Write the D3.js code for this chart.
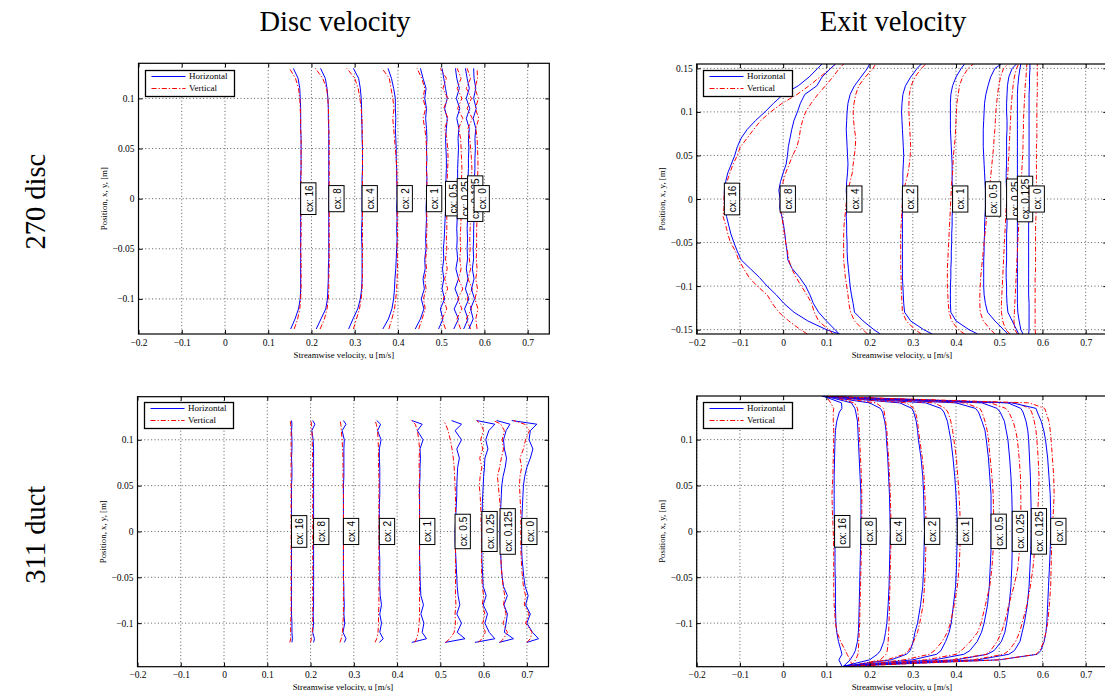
<!DOCTYPE html>
<html>
<head>
<meta charset="utf-8">
<script src="https://cdn.jsdelivr.net/npm/d3@7"></script>
<style>
  html, body { margin: 0; padding: 0; background: #fff; }
  svg { display: block; }
</style>
</head>
<body>
<svg id="fig" width="1105" height="691"></svg>
<script>
// ---------------------------------------------------------------
// Streamwise velocity profiles (horizontal and vertical traverses)
// for nine cx values, disc plane vs. exit plane, two set-ups.
// ---------------------------------------------------------------
const cxValues = [16, 8, 4, 2, 1, 0.5, 0.25, 0.125, 0];
const cxLabels = ["cx: 16", "cx: 8", "cx: 4", "cx: 2", "cx: 1", "cx: 0.5", "cx: 0.25", "cx: 0.125", "cx: 0"];
const xTicks = [-0.2, -0.1, 0, 0.1, 0.2, 0.3, 0.4, 0.5, 0.6, 0.7];
const yTicksA = [-0.1, -0.05, 0, 0.05, 0.1];
const yTicksB = [-0.15, -0.1, -0.05, 0, 0.05, 0.1, 0.15];
const columnTitles = ["Disc velocity", "Exit velocity"];
const rowTitles = ["270 disc", "311 duct"];
const seriesNames = ["Horizontal", "Vertical"];

// ---- 270 disc, disc plane ----
const discPos270 = [-0.13,-0.12,-0.11,-0.10,-0.09,-0.08,-0.07,-0.06,-0.05,-0.04,-0.03,-0.02,-0.01,0,
  0.01,0.02,0.03,0.04,0.05,0.06,0.07,0.08,0.09,0.10,0.11,0.12,0.13];
const discH270 = [
  [0.152,0.162,0.170,0.174,0.175,0.175,0.175,0.175,0.175,0.175,0.175,0.175,0.175,0.175,0.175,0.175,0.176,0.176,0.176,0.176,0.175,0.175,0.175,0.174,0.173,0.169,0.158],
  [0.211,0.222,0.233,0.237,0.238,0.239,0.239,0.240,0.240,0.240,0.240,0.240,0.240,0.240,0.240,0.240,0.240,0.240,0.240,0.240,0.240,0.239,0.239,0.238,0.236,0.232,0.221],
  [0.286,0.296,0.307,0.313,0.316,0.317,0.317,0.317,0.317,0.316,0.316,0.317,0.317,0.317,0.317,0.317,0.318,0.318,0.318,0.317,0.317,0.316,0.316,0.315,0.313,0.309,0.297],
  [0.365,0.378,0.386,0.390,0.392,0.393,0.395,0.396,0.397,0.398,0.397,0.398,0.397,0.398,0.398,0.397,0.397,0.396,0.396,0.395,0.394,0.395,0.394,0.394,0.390,0.385,0.377],
  [0.440,0.452,0.460,0.454,0.461,0.458,0.463,0.462,0.465,0.464,0.465,0.466,0.465,0.466,0.466,0.467,0.466,0.467,0.466,0.467,0.466,0.464,0.466,0.462,0.465,0.458,0.452],
  [0.494,0.504,0.498,0.508,0.502,0.506,0.503,0.506,0.505,0.507,0.508,0.509,0.510,0.510,0.511,0.511,0.512,0.512,0.511,0.510,0.512,0.514,0.508,0.514,0.510,0.506,0.502],
  [0.529,0.540,0.530,0.541,0.532,0.540,0.534,0.538,0.536,0.537,0.536,0.537,0.537,0.537,0.537,0.538,0.538,0.539,0.540,0.539,0.541,0.536,0.543,0.535,0.542,0.536,0.533],
  [0.552,0.562,0.554,0.564,0.556,0.562,0.558,0.561,0.560,0.561,0.560,0.561,0.560,0.561,0.561,0.562,0.563,0.563,0.564,0.563,0.565,0.558,0.566,0.558,0.565,0.560,0.556],
  [0.564,0.574,0.568,0.577,0.570,0.576,0.572,0.575,0.574,0.575,0.575,0.576,0.576,0.576,0.577,0.577,0.578,0.578,0.579,0.578,0.580,0.574,0.581,0.575,0.580,0.576,0.575]
];
const discV270 = [
  [0.160,0.168,0.173,0.175,0.176,0.176,0.176,0.176,0.175,0.176,0.176,0.176,0.176,0.176,0.176,0.176,0.176,0.176,0.176,0.176,0.175,0.175,0.174,0.173,0.170,0.163,0.149],
  [0.220,0.230,0.236,0.239,0.240,0.240,0.241,0.241,0.241,0.241,0.241,0.241,0.241,0.241,0.241,0.241,0.241,0.241,0.241,0.241,0.240,0.240,0.239,0.238,0.235,0.226,0.209],
  [0.297,0.304,0.311,0.315,0.317,0.318,0.318,0.318,0.318,0.318,0.318,0.318,0.318,0.318,0.318,0.318,0.318,0.318,0.318,0.318,0.317,0.317,0.315,0.312,0.308,0.300,0.282],
  [0.379,0.386,0.392,0.395,0.397,0.398,0.399,0.399,0.398,0.399,0.399,0.398,0.399,0.399,0.398,0.398,0.397,0.396,0.394,0.392,0.390,0.388,0.391,0.388,0.384,0.380,0.363],
  [0.448,0.456,0.463,0.459,0.465,0.462,0.466,0.464,0.467,0.466,0.467,0.467,0.466,0.467,0.467,0.467,0.466,0.466,0.466,0.465,0.462,0.458,0.464,0.458,0.462,0.455,0.444],
  [0.510,0.502,0.513,0.505,0.515,0.508,0.514,0.510,0.513,0.512,0.513,0.513,0.512,0.512,0.513,0.514,0.515,0.516,0.515,0.513,0.508,0.516,0.506,0.515,0.504,0.512,0.498],
  [0.545,0.536,0.548,0.538,0.550,0.540,0.546,0.543,0.545,0.544,0.545,0.546,0.545,0.546,0.546,0.547,0.548,0.547,0.546,0.545,0.540,0.550,0.538,0.548,0.537,0.546,0.537],
  [0.568,0.558,0.570,0.560,0.572,0.562,0.568,0.565,0.567,0.566,0.567,0.568,0.568,0.568,0.569,0.570,0.571,0.570,0.568,0.566,0.562,0.572,0.560,0.570,0.558,0.568,0.560],
  [0.583,0.580,0.585,0.578,0.584,0.580,0.583,0.581,0.582,0.582,0.582,0.583,0.583,0.583,0.584,0.584,0.585,0.585,0.584,0.583,0.580,0.587,0.579,0.586,0.578,0.584,0.583]
];

// ---- 270 disc, exit plane ----
const exitPos270 = [-0.155,-0.15,-0.14,-0.13,-0.12,-0.11,-0.10,-0.09,-0.08,-0.07,-0.06,-0.05,-0.04,-0.03,-0.02,-0.01,0,
  0.01,0.02,0.03,0.04,0.05,0.06,0.07,0.08,0.09,0.10,0.11,0.12,0.13,0.14,0.15,0.155];
const exitH270 = [
  [0.130,0.100,0.057,0.025,0.002,-0.016,-0.037,-0.055,-0.076,-0.097,-0.106,-0.114,-0.121,-0.126,-0.131,-0.134,-0.136,-0.136,-0.133,-0.128,-0.120,-0.112,-0.106,-0.097,-0.083,-0.064,-0.042,-0.022,0.000,0.035,0.060,0.080,0.090],
  [0.130,0.120,0.100,0.082,0.070,0.062,0.052,0.038,0.021,0.011,0.009,0.006,0.004,0.001,-0.003,-0.008,-0.007,-0.010,-0.006,0.000,0.007,0.010,0.012,0.016,0.020,0.025,0.033,0.040,0.050,0.078,0.090,0.110,0.121],
  [0.225,0.210,0.185,0.165,0.162,0.158,0.155,0.153,0.151,0.149,0.148,0.148,0.147,0.147,0.146,0.147,0.147,0.146,0.147,0.149,0.150,0.149,0.148,0.147,0.146,0.147,0.148,0.150,0.155,0.165,0.180,0.195,0.200],
  [0.345,0.325,0.295,0.281,0.279,0.278,0.277,0.276,0.276,0.276,0.276,0.276,0.276,0.276,0.276,0.276,0.276,0.276,0.277,0.277,0.278,0.279,0.278,0.277,0.276,0.275,0.274,0.275,0.277,0.283,0.295,0.310,0.320],
  [0.450,0.430,0.400,0.388,0.387,0.387,0.387,0.388,0.388,0.389,0.389,0.390,0.390,0.391,0.391,0.392,0.392,0.392,0.391,0.391,0.391,0.390,0.389,0.388,0.387,0.387,0.387,0.387,0.388,0.392,0.400,0.412,0.420],
  [0.520,0.510,0.490,0.473,0.468,0.465,0.464,0.464,0.464,0.464,0.465,0.465,0.466,0.466,0.467,0.468,0.468,0.468,0.467,0.466,0.465,0.464,0.463,0.463,0.463,0.464,0.465,0.466,0.469,0.474,0.480,0.490,0.505],
  [0.545,0.540,0.530,0.520,0.518,0.517,0.517,0.516,0.516,0.517,0.517,0.517,0.517,0.518,0.518,0.517,0.517,0.517,0.516,0.516,0.517,0.517,0.517,0.517,0.518,0.518,0.517,0.517,0.518,0.519,0.522,0.530,0.540],
  [0.555,0.550,0.546,0.543,0.542,0.542,0.542,0.542,0.542,0.542,0.542,0.542,0.542,0.542,0.542,0.542,0.542,0.542,0.542,0.542,0.542,0.542,0.542,0.542,0.542,0.542,0.542,0.542,0.542,0.543,0.545,0.548,0.550],
  [0.568,0.569,0.569,0.569,0.569,0.568,0.568,0.568,0.568,0.568,0.568,0.568,0.568,0.568,0.569,0.569,0.569,0.569,0.569,0.569,0.569,0.569,0.569,0.569,0.569,0.569,0.569,0.569,0.569,0.570,0.570,0.571,0.571]
];
const exitV270 = [
  [0.056,0.040,0.013,-0.010,-0.025,-0.037,-0.060,-0.079,-0.091,-0.103,-0.110,-0.122,-0.128,-0.133,-0.139,-0.137,-0.137,-0.136,-0.130,-0.123,-0.116,-0.106,-0.099,-0.083,-0.068,-0.052,-0.029,-0.002,0.032,0.060,0.085,0.110,0.122],
  [0.115,0.105,0.082,0.072,0.066,0.055,0.042,0.030,0.020,0.013,0.010,0.006,0.003,0.000,-0.003,-0.007,-0.006,-0.004,0.000,0.006,0.014,0.022,0.032,0.037,0.040,0.045,0.052,0.065,0.080,0.098,0.115,0.130,0.140],
  [0.195,0.185,0.165,0.156,0.152,0.150,0.147,0.144,0.142,0.140,0.140,0.140,0.140,0.141,0.143,0.145,0.147,0.150,0.155,0.160,0.162,0.165,0.167,0.168,0.165,0.163,0.162,0.164,0.168,0.175,0.190,0.208,0.214],
  [0.320,0.305,0.285,0.276,0.275,0.274,0.273,0.273,0.272,0.272,0.272,0.272,0.272,0.273,0.274,0.275,0.277,0.279,0.284,0.289,0.292,0.294,0.295,0.294,0.293,0.292,0.291,0.291,0.292,0.296,0.305,0.320,0.330],
  [0.420,0.405,0.390,0.384,0.382,0.381,0.380,0.380,0.380,0.381,0.382,0.383,0.384,0.385,0.386,0.387,0.388,0.389,0.390,0.392,0.393,0.394,0.396,0.398,0.399,0.400,0.401,0.402,0.405,0.408,0.415,0.428,0.440],
  [0.490,0.480,0.463,0.456,0.455,0.455,0.456,0.457,0.459,0.461,0.463,0.465,0.467,0.469,0.471,0.473,0.475,0.477,0.479,0.481,0.483,0.485,0.487,0.488,0.490,0.491,0.492,0.494,0.496,0.499,0.503,0.510,0.520],
  [0.525,0.515,0.508,0.505,0.505,0.506,0.507,0.508,0.509,0.510,0.511,0.512,0.513,0.514,0.515,0.516,0.517,0.518,0.519,0.520,0.521,0.522,0.523,0.524,0.525,0.526,0.527,0.528,0.530,0.532,0.535,0.540,0.545],
  [0.542,0.536,0.534,0.535,0.536,0.537,0.538,0.539,0.540,0.541,0.542,0.543,0.544,0.545,0.546,0.547,0.549,0.550,0.551,0.552,0.553,0.554,0.555,0.555,0.556,0.556,0.557,0.558,0.559,0.560,0.562,0.563,0.564],
  [0.584,0.583,0.583,0.583,0.583,0.583,0.583,0.583,0.584,0.584,0.584,0.584,0.584,0.584,0.585,0.585,0.585,0.585,0.586,0.586,0.586,0.586,0.586,0.587,0.587,0.587,0.587,0.587,0.588,0.588,0.588,0.588,0.588]
];

// ---- 311 duct, disc plane ----
const discPos311 = [-0.121,-0.117,-0.11,-0.10,-0.09,-0.08,-0.07,-0.06,-0.05,-0.04,-0.03,-0.02,-0.01,0,
  0.01,0.02,0.03,0.04,0.05,0.06,0.07,0.08,0.09,0.10,0.11,0.117,0.121];
const discH311 = [
  [0.157,0.158,0.157,0.157,0.156,0.156,0.156,0.156,0.156,0.156,0.156,0.156,0.156,0.156,0.156,0.156,0.156,0.156,0.156,0.157,0.157,0.156,0.157,0.157,0.156,0.157,0.156],
  [0.207,0.209,0.205,0.207,0.206,0.207,0.207,0.207,0.207,0.207,0.207,0.207,0.207,0.207,0.207,0.207,0.207,0.207,0.207,0.207,0.207,0.207,0.207,0.206,0.203,0.210,0.205],
  [0.278,0.282,0.275,0.279,0.277,0.278,0.277,0.277,0.276,0.276,0.276,0.276,0.276,0.276,0.276,0.276,0.276,0.276,0.276,0.277,0.277,0.277,0.277,0.278,0.273,0.282,0.276],
  [0.359,0.368,0.360,0.364,0.360,0.364,0.361,0.360,0.360,0.360,0.360,0.359,0.359,0.359,0.359,0.359,0.359,0.360,0.360,0.360,0.360,0.359,0.359,0.363,0.355,0.362,0.353],
  [0.434,0.468,0.458,0.462,0.455,0.461,0.455,0.454,0.453,0.453,0.452,0.452,0.452,0.452,0.452,0.452,0.452,0.452,0.452,0.453,0.453,0.454,0.453,0.460,0.447,0.458,0.434],
  [0.511,0.557,0.539,0.549,0.538,0.545,0.541,0.539,0.538,0.537,0.536,0.535,0.534,0.534,0.535,0.536,0.537,0.538,0.538,0.539,0.540,0.544,0.538,0.549,0.534,0.549,0.526],
  [0.580,0.626,0.613,0.603,0.609,0.599,0.606,0.599,0.598,0.597,0.596,0.596,0.596,0.596,0.596,0.597,0.597,0.598,0.599,0.600,0.602,0.603,0.610,0.605,0.612,0.626,0.584],
  [0.636,0.669,0.648,0.652,0.655,0.647,0.655,0.646,0.643,0.641,0.640,0.639,0.638,0.638,0.638,0.639,0.640,0.641,0.642,0.645,0.650,0.653,0.648,0.646,0.652,0.661,0.630],
  [0.700,0.727,0.713,0.700,0.708,0.697,0.703,0.696,0.693,0.691,0.689,0.688,0.688,0.688,0.688,0.689,0.690,0.691,0.692,0.695,0.700,0.708,0.714,0.705,0.708,0.723,0.665]
];
const discV311 = [
  [0.152,0.154,0.154,0.154,0.155,0.155,0.155,0.155,0.155,0.155,0.155,0.155,0.155,0.155,0.155,0.155,0.155,0.155,0.155,0.155,0.155,0.155,0.155,0.155,0.155,0.154,0.153],
  [0.200,0.202,0.204,0.205,0.205,0.205,0.205,0.205,0.205,0.205,0.205,0.205,0.205,0.205,0.205,0.205,0.205,0.205,0.205,0.205,0.205,0.205,0.204,0.204,0.203,0.202,0.201],
  [0.268,0.271,0.274,0.275,0.276,0.276,0.276,0.276,0.276,0.276,0.276,0.276,0.276,0.276,0.276,0.276,0.276,0.276,0.275,0.275,0.275,0.275,0.274,0.273,0.271,0.270,0.268],
  [0.349,0.353,0.356,0.357,0.357,0.358,0.358,0.358,0.358,0.358,0.358,0.358,0.358,0.358,0.358,0.358,0.358,0.358,0.358,0.358,0.357,0.357,0.357,0.356,0.355,0.352,0.349],
  [0.441,0.445,0.449,0.451,0.452,0.452,0.452,0.452,0.452,0.452,0.452,0.452,0.452,0.452,0.452,0.452,0.452,0.451,0.451,0.452,0.451,0.451,0.452,0.450,0.447,0.442,0.434],
  [0.512,0.522,0.532,0.535,0.534,0.536,0.535,0.535,0.535,0.535,0.535,0.535,0.535,0.535,0.535,0.535,0.535,0.535,0.534,0.533,0.532,0.530,0.527,0.523,0.518,0.512,0.507],
  [0.588,0.596,0.604,0.598,0.603,0.597,0.600,0.597,0.596,0.595,0.595,0.595,0.595,0.595,0.594,0.594,0.593,0.592,0.590,0.592,0.596,0.591,0.598,0.593,0.600,0.594,0.584],
  [0.638,0.646,0.655,0.645,0.652,0.646,0.649,0.645,0.643,0.641,0.640,0.640,0.640,0.640,0.640,0.639,0.638,0.636,0.634,0.632,0.637,0.641,0.646,0.643,0.648,0.640,0.623],
  [0.700,0.708,0.712,0.697,0.705,0.694,0.697,0.692,0.690,0.688,0.687,0.686,0.686,0.686,0.686,0.686,0.685,0.684,0.683,0.684,0.688,0.684,0.692,0.697,0.706,0.695,0.669]
];

// ---- 311 duct, exit plane ----
const exitPos311 = [-0.147,-0.14,-0.134,-0.13,-0.12,-0.11,-0.10,-0.08,-0.06,-0.04,-0.02,0,
  0.02,0.04,0.06,0.08,0.10,0.11,0.12,0.13,0.134,0.14,0.147];
const exitH311 = [
  [0.136,0.129,0.136,0.134,0.128,0.124,0.122,0.121,0.121,0.120,0.120,0.119,0.118,0.118,0.118,0.119,0.120,0.121,0.124,0.130,0.136,0.135,0.095],
  [0.140,0.155,0.163,0.167,0.172,0.174,0.175,0.176,0.177,0.178,0.179,0.180,0.180,0.180,0.178,0.176,0.174,0.173,0.172,0.168,0.166,0.158,0.100],
  [0.140,0.200,0.218,0.225,0.233,0.237,0.240,0.243,0.245,0.246,0.247,0.248,0.247,0.246,0.244,0.242,0.239,0.238,0.235,0.230,0.225,0.200,0.100],
  [0.140,0.250,0.285,0.294,0.301,0.305,0.311,0.318,0.323,0.325,0.326,0.327,0.326,0.325,0.323,0.319,0.313,0.311,0.308,0.302,0.298,0.270,0.095],
  [0.140,0.300,0.355,0.365,0.376,0.384,0.389,0.394,0.399,0.401,0.402,0.403,0.402,0.400,0.397,0.393,0.388,0.384,0.380,0.372,0.365,0.330,0.095],
  [0.140,0.350,0.418,0.432,0.449,0.459,0.465,0.473,0.477,0.479,0.481,0.481,0.481,0.481,0.478,0.475,0.470,0.467,0.460,0.452,0.445,0.400,0.090],
  [0.140,0.400,0.472,0.488,0.505,0.513,0.517,0.523,0.527,0.529,0.530,0.530,0.530,0.529,0.527,0.524,0.520,0.516,0.512,0.502,0.495,0.460,0.090],
  [0.140,0.450,0.522,0.535,0.548,0.553,0.558,0.565,0.569,0.571,0.573,0.574,0.574,0.573,0.572,0.570,0.568,0.566,0.562,0.555,0.550,0.520,0.090],
  [0.140,0.500,0.588,0.596,0.604,0.608,0.610,0.612,0.614,0.616,0.618,0.619,0.619,0.618,0.615,0.612,0.607,0.603,0.597,0.588,0.585,0.530,0.090]
];
const exitV311 = [
  [0.160,0.155,0.148,0.144,0.133,0.125,0.121,0.118,0.117,0.117,0.117,0.116,0.114,0.113,0.115,0.116,0.117,0.117,0.116,0.116,0.117,0.110,0.100],
  [0.155,0.168,0.173,0.174,0.175,0.176,0.177,0.178,0.179,0.180,0.181,0.182,0.182,0.182,0.181,0.179,0.177,0.176,0.175,0.173,0.172,0.165,0.110],
  [0.155,0.225,0.238,0.241,0.243,0.244,0.245,0.246,0.247,0.248,0.249,0.250,0.249,0.248,0.246,0.244,0.241,0.240,0.237,0.234,0.232,0.215,0.105],
  [0.150,0.240,0.280,0.290,0.302,0.311,0.316,0.324,0.327,0.329,0.330,0.331,0.330,0.328,0.326,0.322,0.316,0.313,0.311,0.306,0.303,0.285,0.100],
  [0.155,0.280,0.338,0.350,0.368,0.380,0.387,0.396,0.403,0.407,0.409,0.410,0.409,0.407,0.404,0.401,0.395,0.392,0.388,0.381,0.375,0.350,0.100],
  [0.155,0.330,0.400,0.412,0.433,0.450,0.458,0.468,0.478,0.483,0.486,0.487,0.487,0.486,0.483,0.479,0.475,0.472,0.467,0.460,0.455,0.420,0.100],
  [0.155,0.390,0.470,0.480,0.495,0.505,0.512,0.522,0.534,0.543,0.547,0.549,0.550,0.550,0.549,0.546,0.542,0.538,0.532,0.522,0.515,0.480,0.100],
  [0.155,0.440,0.510,0.522,0.538,0.547,0.553,0.564,0.572,0.578,0.582,0.585,0.589,0.591,0.592,0.590,0.587,0.585,0.581,0.575,0.570,0.540,0.100],
  [0.155,0.500,0.585,0.594,0.603,0.608,0.612,0.616,0.619,0.620,0.621,0.622,0.625,0.627,0.626,0.623,0.620,0.618,0.615,0.608,0.605,0.570,0.100]
];

// ---------------------------------------------------------------
// Layout and styling
// ---------------------------------------------------------------
const SERIF = "'Liberation Serif', 'Times New Roman', Times, serif";
const SANS = "'Liberation Sans', Arial, Helvetica, sans-serif";
const BLUE = "#0000ff";
const RED = "#ff0000";
const DASHDOT = "5,2,1.3,2";

const panels = [
  { pos: discPos270, H: discH270, V: discV270, yTicks: yTicksA, yDomain: [-0.135, 0.135],
    x0: 138.5, x1: 549.3, y0: 63.3, y1: 334 },
  { pos: exitPos270, H: exitH270, V: exitV270, yTicks: yTicksB, yDomain: [-0.155, 0.155],
    x0: 696.7, x1: 1107.3, y0: 64, y1: 334 },
  { pos: discPos311, H: discH311, V: discV311, yTicks: yTicksA, yDomain: [-0.1475, 0.147],
    x0: 137.5, x1: 548.5, y0: 396.7, y1: 666.7 },
  { pos: exitPos311, H: exitH311, V: exitV311, yTicks: yTicksA, yDomain: [-0.1475, 0.1475],
    x0: 696.7, x1: 1107.3, y0: 396, y1: 666.7 }
];

const svg = d3.select("#fig");
svg.append("rect").attr("width", 1105).attr("height", 691).attr("fill", "#fff");
const defs = svg.append("defs");

const fmt = d => (d < 0 ? "\u2212" : "") + String(+Math.abs(d).toFixed(2));

function drawPanel(p, k) {
  const x = d3.scaleLinear().domain([-0.2, 0.75]).range([p.x0, p.x1]);
  const y = d3.scaleLinear().domain(p.yDomain).range([p.y1, p.y0]);
  const g = svg.append("g");
  const w = p.x1 - p.x0, h = p.y1 - p.y0;

  defs.append("clipPath").attr("id", "plotclip" + k)
    .append("rect").attr("x", p.x0).attr("y", p.y0).attr("width", w).attr("height", h);

  // dotted grid
  const grid = g.append("g").attr("stroke", "#333").attr("stroke-width", 0.8)
    .attr("stroke-dasharray", "1,2.4").attr("fill", "none");
  grid.selectAll(".gx").data(xTicks).join("line")
    .attr("x1", d => x(d)).attr("x2", d => x(d)).attr("y1", p.y0).attr("y2", p.y1);
  grid.selectAll(".gy").data(p.yTicks).join("line")
    .attr("y1", d => y(d)).attr("y2", d => y(d)).attr("x1", p.x0).attr("x2", p.x1);

  // profiles
  const line = d3.line().x(d => x(d[0])).y(d => y(d[1]));
  const curves = g.append("g").attr("clip-path", `url(#plotclip${k})`).attr("fill", "none");
  cxValues.forEach((cx, i) => {
    const hPts = p.H[i].map((u, j) => [u, p.pos[j]]);
    const vPts = p.V[i].map((u, j) => [u, p.pos[j]]);
    curves.append("path").attr("d", line(hPts)).attr("stroke", BLUE).attr("stroke-width", 1);
    curves.append("path").attr("d", line(vPts)).attr("stroke", RED).attr("stroke-width", 1)
      .attr("stroke-dasharray", DASHDOT);
  });

  // axes: inward ticks on all four sides, labels on bottom and left
  const tick = 4;
  const ax = g.append("g").attr("transform", `translate(0,${p.y1})`)
    .call(d3.axisBottom(x).tickValues(xTicks).tickSizeInner(-tick).tickSizeOuter(0).tickPadding(5).tickFormat(fmt));
  const ay = g.append("g").attr("transform", `translate(${p.x0},0)`)
    .call(d3.axisLeft(y).tickValues(p.yTicks).tickSizeInner(-tick).tickSizeOuter(0).tickPadding(4).tickFormat(fmt));
  const at = g.append("g").attr("transform", `translate(0,${p.y0})`)
    .call(d3.axisTop(x).tickValues(xTicks).tickSizeInner(-tick).tickSizeOuter(0).tickFormat(""));
  const ar = g.append("g").attr("transform", `translate(${p.x1},0)`)
    .call(d3.axisRight(y).tickValues(p.yTicks).tickSizeInner(-tick).tickSizeOuter(0).tickFormat(""));
  [ax, ay, at, ar].forEach(a => {
    a.select(".domain").remove();
    a.selectAll("line").attr("stroke", "#000").attr("stroke-width", 1);
    a.selectAll("text").attr("font-family", SERIF).attr("font-size", 9.5).attr("fill", "#000");
  });

  g.append("rect").attr("x", p.x0).attr("y", p.y0).attr("width", w).attr("height", h)
    .attr("fill", "none").attr("stroke", "#000").attr("stroke-width", 1.2);

  // axis titles
  g.append("text").attr("x", (p.x0 + p.x1) / 2).attr("y", p.y1 + 23.5)
    .attr("text-anchor", "middle").attr("font-family", SERIF).attr("font-size", 8.8)
    .text("Streamwise velocity, u [m/s]");
  g.append("text").attr("transform", `translate(${p.x0 - 32},${(p.y0 + p.y1) / 2}) rotate(-90)`)
    .attr("text-anchor", "middle").attr("font-family", SERIF).attr("font-size", 8.8)
    .text("Position, x, y, [m]");

  // legend: white box with a solid blue and a dash-dot red sample;
  // sample rows sit on even device rows so the thin coloured strokes stay saturated
  const lx0 = Math.round(p.x0 + 6);
  const ly0 = 2 * Math.round((p.y0 + 6) / 2);
  const lg = svg.append("g").attr("class", "legend");
  lg.append("rect").attr("x", lx0 + 0.5).attr("y", ly0 + 0.5).attr("width", 89).attr("height", 26)
    .style("fill", "#fff").style("stroke", "#000").style("stroke-width", 1.3);
  [[BLUE, "none"], [RED, DASHDOT]].forEach((s, r) => {
    const yy = ly0 + 6.5 + r * 12;
    lg.append("path").attr("d", `M${lx0 + 6.5},${yy}H${lx0 + 40.5}`)
      .style("fill", "none").style("stroke", s[0]).style("stroke-width", 1.1)
      .style("stroke-dasharray", s[1]);
    lg.append("text").attr("x", lx0 + 44).attr("y", yy).attr("dy", "0.33em")
      .attr("font-family", SERIF).attr("font-size", 9).text(seriesNames[r]);
  });

  // cx labels, anchored on the horizontal profile where position = 0
  const iZero = p.pos.indexOf(0);
  const labels = g.append("g");
  cxValues.forEach((cx, i) => {
    const lx = x(p.H[i][iZero]);
    const ly = y(0);
    const lab = labels.append("g");
    const box = lab.append("rect");
    const t = lab.append("text")
      .attr("transform", `translate(${lx + 8.3},${ly}) rotate(-90)`)
      .attr("text-anchor", "middle").attr("dy", "0.36em")
      .attr("font-family", SANS).attr("font-size", 10).text(cxLabels[i]);
    const len = t.node().getComputedTextLength();
    const bh = len + 5;
    box.attr("x", lx).attr("y", ly - bh / 2).attr("width", 15.3).attr("height", bh)
      .attr("fill", "#fff").attr("stroke", "#000").attr("stroke-width", 1);
  });
}

panels.forEach(drawPanel);

// column and row headings
const colX = [335, 893];
columnTitles.forEach((t, i) => {
  svg.append("text").attr("x", colX[i]).attr("y", 31).attr("text-anchor", "middle")
    .attr("font-family", SERIF).attr("font-size", 28.5).text(t);
});
const rowY = [(panels[0].y0 + panels[0].y1) / 2 + 3, (panels[2].y0 + panels[2].y1) / 2 + 3];
rowTitles.forEach((t, i) => {
  svg.append("text").attr("transform", `translate(45,${rowY[i]}) rotate(-90)`)
    .attr("text-anchor", "middle").attr("font-family", SERIF).attr("font-size", 28.5).text(t);
});
</script>
</body>
</html>
